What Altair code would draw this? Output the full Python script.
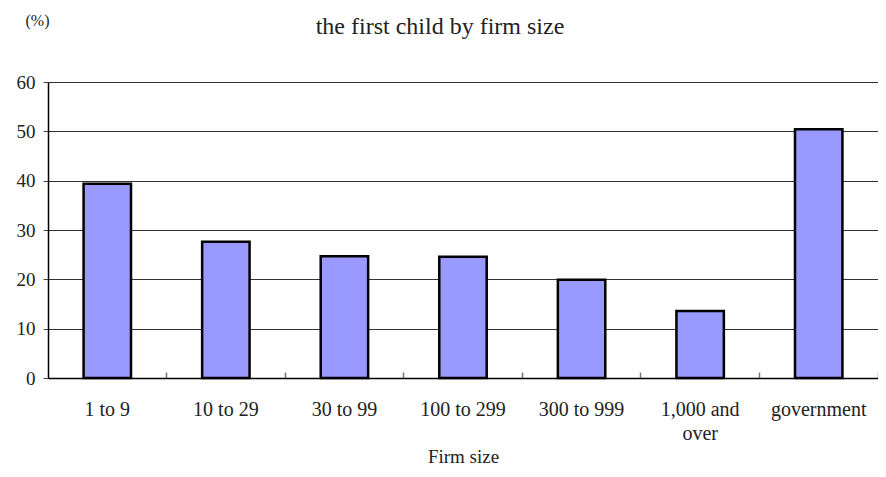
import altair as alt
import pandas as pd

categories = ["1 to 9", "10 to 29", "30 to 99", "100 to 299", "300 to 999", "1,000 and over", "government"]
values = [39.4, 27.6, 24.7, 24.6, 19.9, 13.6, 50.4]

df = pd.DataFrame({"size": categories, "pct": values})

FONT = "Liberation Serif"
TXT = "#222"

chart = alt.Chart(df).mark_bar(
    color="#9999FF", stroke="black", strokeWidth=2.5
).encode(
    x=alt.X(
        "size:N",
        sort=categories,
        scale=alt.Scale(paddingInner=0.6, paddingOuter=0.3),
        axis=alt.Axis(
            title="Firm size",
            titleFont=FONT,
            titleFontSize=19,
            titleFontWeight="normal",
            titleColor=TXT,
            titlePadding=4,
            labelFont=FONT,
            labelFontSize=20,
            labelColor=TXT,
            labelAngle=0,
            labelPadding=27,
            labelLineHeight=24,
            labelExpr="datum.label == '1,000 and over' ? ['1,000 and', 'over'] : datum.label",
            domainColor="black",
            domainWidth=1.5,
            bandPosition=1.75,
            tickSize={"expr": "-6"},
            tickColor="#777",
            tickWidth=1.5,
            grid=False,
        ),
    ),
    y=alt.Y(
        "pct:Q",
        scale=alt.Scale(domain=[0, 60]),
        axis=alt.Axis(
            values=[0, 10, 20, 30, 40, 50, 60],
            title="(%)",
            titleAngle=0,
            titleX=-11,
            titleY=-62,
            titleAlign="center",
            titleBaseline="middle",
            titleFont=FONT,
            titleFontSize=16,
            titleFontWeight="normal",
            titleColor=TXT,
            labelFont=FONT,
            labelFontSize=19,
            labelColor=TXT,
            labelPadding=8,
            domainColor="black",
            domainWidth=1.5,
            tickSize=5,
            tickColor="#444",
            grid=True,
            gridColor="#333",
            gridWidth=1,
        ),
    ),
).properties(
    width=830,
    height=296,
    autosize=alt.AutoSizeParams(type="none"),
    padding={"left": 40, "top": 74, "right": 0, "bottom": 91},
    title=alt.TitleParams(
        "the first child by firm size",
        font=FONT,
        fontSize=24,
        fontWeight="normal",
        color=TXT,
        anchor="middle",
        baseline="alphabetic",
        dx=-23,
        dy=46,
        offset=0,
    ),
).configure_view(stroke=None)

chart.save("out.html", embed_options={"renderer": "svg", "actions": False})
